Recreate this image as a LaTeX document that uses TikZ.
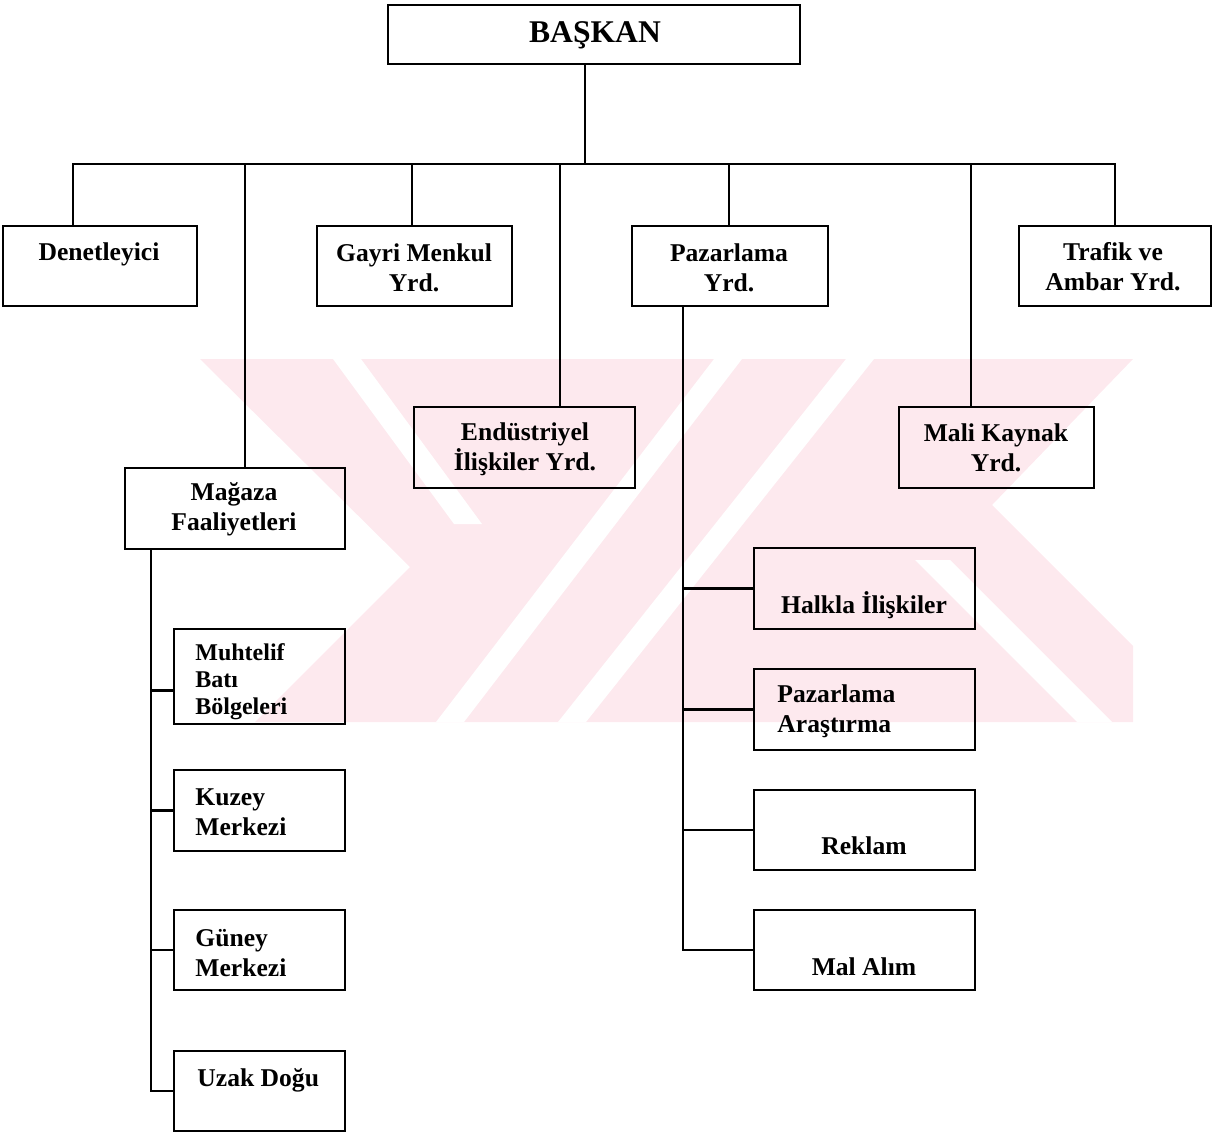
\documentclass[tikz,border=0pt]{standalone}
\usepackage{fontspec}
\setmainfont{Liberation Serif}
\usetikzlibrary{calc}
\definecolor{wmpink}{RGB}{253,233,238}
\begin{document}
\begin{tikzpicture}[x=0.5pt,y=-0.5pt,
  orgbox/.style={draw=black,line width=1.2pt,rectangle,inner sep=0pt},
  lbl/.style={inner sep=0pt,font=\fontsize{12.8}{15}\selectfont\bfseries,align=center},
  lbll/.style={inner sep=0pt,font=\fontsize{12.8}{15}\selectfont\bfseries,align=left,anchor=west},
  wire/.style={draw=black,line width=1.2pt,line cap=rect,line join=miter}]
\useasboundingbox (0,0) rectangle (1214,1134);

% pale background emblem
\begin{scope}
  \fill[wmpink] (200,359) -- (1133,359) -- (992,505) -- (1133,646) -- (1133,722)
    -- (255,722) -- (410,567) -- cycle;
  \clip (200,359) rectangle (1133,722);
  \fill[white] (333,359) -- (361,359) -- (482,524) -- (454,524) -- cycle;
  \fill[white] (714,359) -- (742,359) -- (464,722) -- (436,722) -- cycle;
  \fill[white] (846,359) -- (874,359) -- (586,722) -- (558,722) -- cycle;
  \fill[white] (915,560) -- (950,560) -- (1112,722) -- (1077,722) -- cycle;
\end{scope}

% boxes
\node[orgbox,minimum width=206pt,minimum height=29.5pt] (pres) at (594,34.5) {};
\node[orgbox,minimum width=97pt,minimum height=40pt] (den) at (100,266) {};
\node[orgbox,minimum width=97.5pt,minimum height=40pt] (gay) at (414.5,266) {};
\node[orgbox,minimum width=98pt,minimum height=40pt] (paz) at (730,266) {};
\node[orgbox,minimum width=96pt,minimum height=40pt] (tra) at (1115,266) {};
\node[orgbox,minimum width=110.5pt,minimum height=40.5pt] (end) at (524.5,447.5) {};
\node[orgbox,minimum width=97.5pt,minimum height=40.5pt] (mal) at (996.5,447.5) {};
\node[orgbox,minimum width=110pt,minimum height=40.5pt] (mag) at (235,508.5) {};
\node[orgbox,minimum width=85.5pt,minimum height=47.5pt] (muh) at (259.5,676.5) {};
\node[orgbox,minimum width=85.5pt,minimum height=40.5pt] (kuz) at (259.5,810.5) {};
\node[orgbox,minimum width=85.5pt,minimum height=40pt] (gun) at (259.5,950) {};
\node[orgbox,minimum width=85.5pt,minimum height=40pt] (uza) at (259.5,1091) {};
\node[orgbox,minimum width=110.5pt,minimum height=40.5pt] (hal) at (864.5,588.5) {};
\node[orgbox,minimum width=110.5pt,minimum height=40.5pt] (par) at (864.5,709.5) {};
\node[orgbox,minimum width=110.5pt,minimum height=40pt] (rek) at (864.5,830) {};
\node[orgbox,minimum width=110.5pt,minimum height=40pt] (alm) at (864.5,950) {};

% labels
\node[lbl,font=\fontsize{15.8}{18}\selectfont\bfseries] (presT) at (595,35) {BAŞKAN};
\node[lbl] (denT) at (99,254) {Denetleyici};
\node[lbl] (gayT) at (414,268) {Gayri Menkul\\Yrd.};
\node[lbl] (pazT) at (729,268) {Pazarlama\\Yrd.};
\node[lbl] (traT) at (1113,267) {Trafik ve\\Ambar Yrd.};
\node[lbl] (endT) at (525,449) {Endüstriyel\\İlişkiler Yrd.};
\node[lbl] (malT) at (996,448) {Mali Kaynak\\Yrd.};
\node[lbl] (magT) at (234,509) {Mağaza\\Faaliyetleri};
\node[lbll,font=\fontsize{12}{13.5}\selectfont\bfseries] (muhT) at (195,682) {Muhtelif\\Batı\\Bölgeleri};
\node[lbll] (kuzT) at (195,812) {Kuzey\\Merkezi};
\node[lbll] (gunT) at (195,953) {Güney\\Merkezi};
\node[lbll] (uzaT) at (197,1080) {Uzak Doğu};
\node[lbl] (halT) at (864,605) {Halkla İlişkiler};
\node[lbll] (parT) at (777,711) {Pazarlama\\Araştırma};
\node[lbl] (rekT) at (864,846) {Reklam};
\node[lbl] (almT) at (864,967) {Mal Alım};

% top level connectors
\coordinate (bus) at (585,164);
\coordinate (busL) at (73,164);
\coordinate (busR) at (1115,164);
\coordinate (dMag) at (245,164);
\coordinate (dGay) at (412,164);
\coordinate (dEnd) at (560,164);
\coordinate (dPaz) at (729,164);
\coordinate (dMal) at (971,164);
\draw[wire] (bus |- pres.south) -- (bus);
\draw[wire] (busL) -- (busR);
\draw[wire] (busL) -- (busL |- den.north);
\draw[wire] (dMag) -- (dMag |- mag.north);
\draw[wire] (dGay) -- (dGay |- gay.north);
\draw[wire] (dEnd) -- (dEnd |- end.north);
\draw[wire] (dPaz) -- (dPaz |- paz.north);
\draw[wire] (dMal) -- (dMal |- mal.north);
\draw[wire] (busR) -- (busR |- tra.north);

% store operations branch
\coordinate (mv) at (151,0);
\coordinate (muhin) at ($(muh.west)+(0,14)$);
\draw[wire] (mv |- mag.south) -- (mv |- uza.west) -- (uza.west);
\draw[wire] (mv |- muhin) -- (muhin);
\draw[wire] (mv |- kuz.west) -- (kuz.west);
\draw[wire] (mv |- gun.west) -- (gun.west);

% marketing branch
\coordinate (pv) at (683,0);
\draw[wire] (pv |- paz.south) -- (pv |- alm.west) -- (alm.west);
\draw[wire] (pv |- hal.west) -- (hal.west);
\draw[wire] (pv |- par.west) -- (par.west);
\draw[wire] (pv |- rek.west) -- (rek.west);
\end{tikzpicture}
\end{document}
